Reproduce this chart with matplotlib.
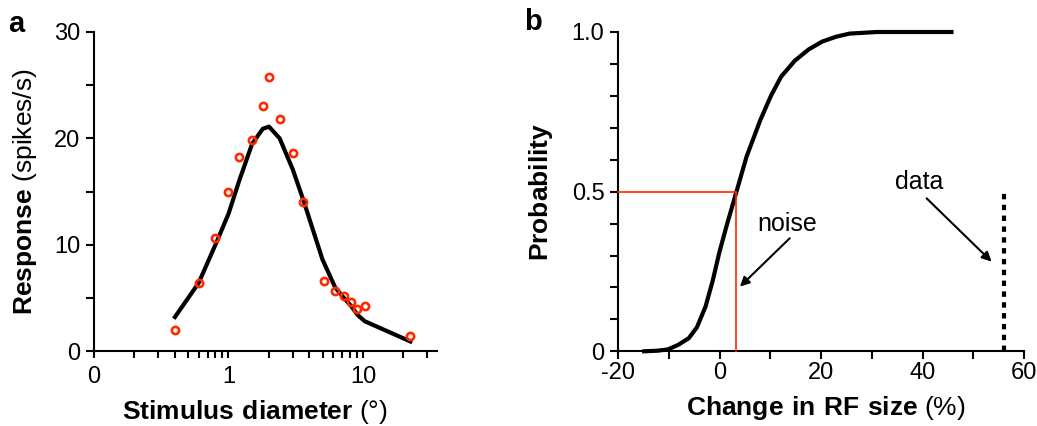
import matplotlib
matplotlib.use("Agg")
import matplotlib.pyplot as plt
from matplotlib.ticker import FixedLocator, NullFormatter

plt.rcParams['font.family'] = ['Liberation Sans', 'DejaVu Sans']
plt.rcParams['mathtext.fontset'] = 'custom'
plt.rcParams['mathtext.rm'] = 'Liberation Sans'
plt.rcParams['mathtext.bf'] = 'Liberation Sans:bold'
plt.rcParams['axes.unicode_minus'] = False

# ---- Panel a data ----
stim_x = [0.4, 0.6, 0.8, 1.0, 1.2, 1.5, 1.8, 2.0, 2.4, 3.0, 3.6, 5.1, 6.2, 7.2, 8.2, 9.1, 10.3, 22.5]
stim_resp = [2.0, 6.4, 10.6, 15.0, 18.2, 19.8, 23.0, 25.8, 21.8, 18.6, 14.0, 6.6, 5.6, 5.2, 4.6, 3.95, 4.2, 1.4]
fit_x = [0.4, 0.6, 0.8, 1.0, 1.2, 1.5, 1.8, 2.0, 2.4, 3.0, 3.6, 5.0, 6.2, 7.2, 8.2, 9.1, 10.3, 22.5]
fit_y = [3.2, 6.4, 10.0, 12.9, 16.0, 19.5, 20.9, 21.1, 20.0, 17.1, 14.2, 8.6, 6.0, 5.0, 4.2, 3.4, 2.8, 0.9]
a_xticks = [0.1, 1, 10]
a_xticklabels = ['0', '1', '10']
a_xminor = [0.2, 0.3, 0.4, 0.5, 0.6, 0.7, 0.8, 0.9, 2, 3, 4, 5, 6, 7, 8, 9, 20, 30]
a_yticks = [0, 10, 20, 30]
a_yminor = [5, 15, 25]

# ---- Panel b data ----
rf_x = [-14.9, -12.2, -10.2, -8.2, -6.1, -4.5, -2.8, -1.4, -0.07, 1.3, 3.3, 5.3, 8.0,
        10.1, 12.1, 14.8, 17.5, 20.2, 22.9, 25.6, 31.0, 45.7]
rf_p = [0.0, 0.002, 0.006, 0.020, 0.041, 0.075, 0.14, 0.22, 0.31, 0.39, 0.50, 0.61, 0.724,
        0.80, 0.86, 0.91, 0.945, 0.97, 0.985, 0.995, 1.0, 1.0]
noise_x = 3.3
noise_p = 0.5
data_x = 56.1
b_xticks = [-20, 0, 20, 40, 60]
b_xminor = [-10, 10, 30, 50]
b_yticks = [0, 0.5, 1.0]
b_yticklabels = ['0', '0.5', '1.0']
b_yminor = [0.1, 0.2, 0.3, 0.4, 0.6, 0.7, 0.8, 0.9]

RED = '#ff2a00'
W, H = 1037, 426
fig = plt.figure(figsize=(W / 100, H / 100), dpi=100)

def style(ax, tlen):
    for s in ['top', 'right']:
        ax.spines[s].set_visible(False)
    for s in ['left', 'bottom']:
        ax.spines[s].set_linewidth(1.5)
    ax.tick_params(which='both', direction='out', width=1.5, length=tlen,
                   labelsize=17, colors='black')

# Panel a
ax1 = fig.add_axes([94 / W, 1 - 351 / H, (437 - 94) / W, (351 - 32) / H])
ax1.set_xscale('log')
ax1.set_xlim(0.1, 35.5)
ax1.set_ylim(0, 30)
ax1.plot(fit_x, fit_y, color='black', lw=3.0, solid_joinstyle='round', zorder=2)
ax1.plot(stim_x, stim_resp, linestyle='none', marker='o', ms=5.2, mfc='none',
         mec=RED, mew=1.9, zorder=3, clip_on=False)
style(ax1, 5)
ax1.xaxis.set_major_locator(FixedLocator(a_xticks))
ax1.set_xticklabels(a_xticklabels)
ax1.xaxis.set_minor_locator(FixedLocator(a_xminor))
ax1.xaxis.set_minor_formatter(NullFormatter())
ax1.yaxis.set_major_locator(FixedLocator(a_yticks))
ax1.yaxis.set_minor_locator(FixedLocator(a_yminor))
ax1.tick_params(axis='x', which='both', pad=6)
ax1.tick_params(axis='y', which='both', length=6, pad=4)
ax1.set_xlabel(r'$\mathbf{Stimulus\ diameter}$ (°)', fontsize=19)
ax1.xaxis.set_label_coords((255 - 94) / 343, -(412 - 351) / 319)
ax1.xaxis.label.set_va('center')
ax1.set_ylabel(r'$\mathbf{Response}$ (spikes/s)', fontsize=19)
ax1.yaxis.set_label_coords(-(94 - 25) / 343, 0.5)
ax1.yaxis.label.set_va('center')

# Panel b
ax2 = fig.add_axes([618.3 / W, 1 - 351.3 / H, (1024 - 618.3) / W, (351.3 - 32) / H])
ax2.set_xlim(-20, 60)
ax2.set_ylim(0, 1)
ax2.plot(rf_x, rf_p, color='black', lw=3.0, zorder=2, clip_on=False,
         solid_joinstyle='round')
ax2.plot([-20, noise_x], [noise_p, noise_p], color=RED, lw=1.2, zorder=3, clip_on=False)
ax2.plot([noise_x, noise_x], [0, noise_p], color=RED, lw=1.2, zorder=3, clip_on=False)
ax2.plot([data_x, data_x], [0, 0.5], color='black', lw=3.0, dashes=(1.3, 1.3), zorder=3)
style(ax2, 6)
ax2.xaxis.set_major_locator(FixedLocator(b_xticks))
ax2.xaxis.set_minor_locator(FixedLocator(b_xminor))
ax2.yaxis.set_major_locator(FixedLocator(b_yticks))
ax2.set_yticklabels(b_yticklabels)
ax2.yaxis.set_minor_locator(FixedLocator(b_yminor))
ax2.tick_params(axis='x', which='both', pad=2)
ax2.tick_params(axis='y', which='both', pad=4)
ax2.set_xlabel(r'$\mathbf{Change\ in\ RF\ size}$ (%)', fontsize=19)
ax2.xaxis.set_label_coords((826 - 618.3) / 405.7, -(408 - 351.3) / 319.3)
ax2.xaxis.label.set_va('center')
ax2.set_ylabel(r'$\mathbf{Probability}$', fontsize=19)
ax2.yaxis.set_label_coords(-(618.3 - 541) / 405.7, 0.5)
ax2.yaxis.label.set_va('center')

ax2.text(13.4, 0.40, 'noise', fontsize=18, ha='center', va='center')
ax2.annotate('', xy=(3.98, 0.2025), xytext=(13.8, 0.354),
             arrowprops=dict(arrowstyle='-|>', lw=1.5, color='black',
                             mutation_scale=14, shrinkA=0, shrinkB=0))
ax2.text(39.4, 0.531, 'data', fontsize=18, ha='center', va='center')
ax2.annotate('', xy=(53.6, 0.281), xytext=(40.8, 0.479),
             arrowprops=dict(arrowstyle='-|>', lw=1.5, color='black',
                             mutation_scale=14, shrinkA=0, shrinkB=0))

fig.text(16 / W, 1 - 24 / H, 'a', fontsize=21, fontweight='bold', ha='center', va='center')
fig.text(533 / W, 1 - 22 / H, 'b', fontsize=21, fontweight='bold', ha='center', va='center')

fig.savefig('out.png', dpi=100)
